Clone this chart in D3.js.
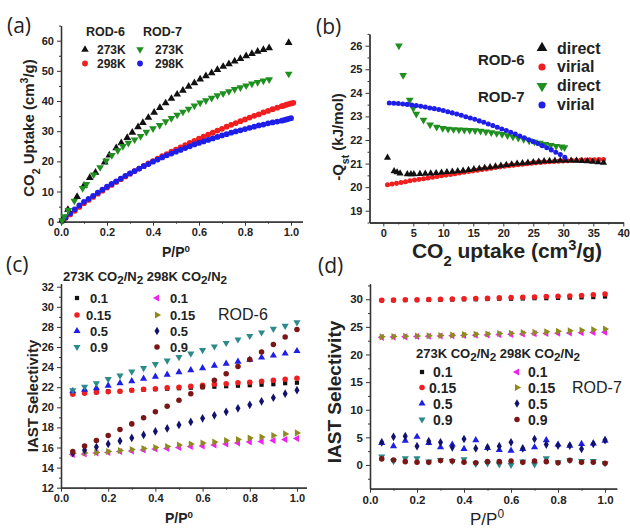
<!DOCTYPE html>
<html>
<head>
<meta charset="utf-8">
<script src="https://cdn.jsdelivr.net/npm/d3@7"></script>
<style>
  body { margin: 0; background: #fff; }
  svg { display: block; font-family: "Liberation Sans", Arial, sans-serif; }
</style>
</head>
<body>
<div id="chart"></div>
<script>
// ---- (a) CO2 isotherms, [P/P0, uptake] ----
const rod6_273K = [[0.005,0.5],[0.03,4.0],[0.07,8.3],[0.10,12.0],[0.125,14.6],[0.15,16.3],[0.19,19.7],[0.21,22.0],[0.24,24.4],[0.262,26.1],[0.288,27.8],[0.31,29.6],[0.335,31.4],[0.356,32.8],[0.38,34.5],[0.405,36.2],[0.43,37.8],[0.455,39.3],[0.48,40.8],[0.505,42.2],[0.53,43.5],[0.555,44.8],[0.58,46.0],[0.605,47.2],[0.63,48.3],[0.655,49.3],[0.68,50.4],[0.705,51.4],[0.73,52.3],[0.755,53.2],[0.78,54.0],[0.805,54.9],[0.83,55.7],[0.855,56.4],[0.88,57.0],[0.905,57.6],[0.99,59.3]];
const rod7_273K = [[0.005,0.4],[0.014,1.7],[0.032,3.8],[0.058,6.9],[0.094,11.1],[0.11,12.4],[0.142,15.6],[0.17,18.0],[0.196,20.2],[0.221,22.0],[0.247,23.6],[0.269,25.0],[0.293,26.1],[0.32,27.2],[0.346,28.3],[0.371,29.7],[0.40,30.9],[0.429,32.0],[0.455,33.2],[0.48,34.3],[0.505,35.4],[0.53,36.4],[0.555,37.4],[0.58,38.4],[0.605,39.4],[0.63,40.2],[0.655,41.0],[0.68,41.8],[0.705,42.5],[0.73,43.2],[0.755,43.9],[0.78,44.5],[0.805,45.1],[0.83,45.7],[0.855,46.2],[0.88,46.7],[0.905,47.1],[0.99,49.0]];
const rod6_298K = [[0.005,0.2],[0.02,1.2],[0.04,2.4],[0.06,3.6],[0.08,4.9],[0.10,6.1],[0.12,7.2],[0.14,8.2],[0.16,9.3],[0.18,10.3],[0.20,11.3],[0.22,12.2],[0.24,13.2],[0.26,14.1],[0.28,15.0],[0.30,15.9],[0.32,16.8],[0.34,17.6],[0.36,18.5],[0.38,19.3],[0.40,20.1],[0.42,20.9],[0.44,21.7],[0.46,22.4],[0.48,23.2],[0.50,23.9],[0.52,24.6],[0.54,25.4],[0.56,26.1],[0.58,26.8],[0.60,27.5],[0.62,28.2],[0.64,28.9],[0.66,29.5],[0.68,30.2],[0.70,30.8],[0.72,31.5],[0.74,32.1],[0.76,32.7],[0.78,33.3],[0.80,33.9],[0.82,34.5],[0.84,35.1],[0.86,35.6],[0.88,36.2],[0.90,36.7],[0.92,37.3],[0.94,37.8],[0.96,38.3],[0.97,38.5],[0.98,38.8],[0.99,39.0],[1.0,39.2],[1.01,39.4]];
const rod7_298K = [[0.005,0.3],[0.02,1.4],[0.04,2.8],[0.06,4.1],[0.08,5.4],[0.10,6.6],[0.12,7.6],[0.14,8.6],[0.16,9.6],[0.18,10.6],[0.20,11.6],[0.22,12.5],[0.24,13.4],[0.26,14.3],[0.28,15.2],[0.30,16.0],[0.32,16.8],[0.34,17.6],[0.36,18.4],[0.38,19.1],[0.40,19.9],[0.42,20.6],[0.44,21.3],[0.46,22.0],[0.48,22.6],[0.50,23.2],[0.52,23.8],[0.54,24.4],[0.56,25.0],[0.58,25.6],[0.60,26.1],[0.62,26.6],[0.64,27.1],[0.66,27.6],[0.68,28.1],[0.70,28.6],[0.72,29.0],[0.74,29.5],[0.76,29.9],[0.78,30.3],[0.80,30.7],[0.82,31.1],[0.84,31.5],[0.86,31.9],[0.88,32.2],[0.90,32.6],[0.92,32.9],[0.94,33.2],[0.96,33.5],[0.97,33.7],[0.98,33.9],[0.99,34.1],[1.0,34.3]];

// ---- (b) isosteric heat, [uptake, -Qst] ----
const rod6_direct = [[0.7,21.25],[1.8,20.68],[2.3,20.63],[2.8,20.58],[4.0,20.55],[4.6,20.55],[5.1,20.55],[6.1,20.56],[7.0,20.57],[7.9,20.58],[8.8,20.6],[9.7,20.62],[10.6,20.64],[11.5,20.66],[12.4,20.68],[13.3,20.7],[14.2,20.73],[15.1,20.76],[16.0,20.79],[16.9,20.82],[17.8,20.85],[18.7,20.88],[19.6,20.91],[20.5,20.94],[21.4,20.97],[22.3,21.0],[23.2,21.02],[24.1,21.04],[25.0,21.06],[25.9,21.08],[26.8,21.1],[27.7,21.11],[28.6,21.12],[29.5,21.13],[30.4,21.13],[31.3,21.13],[32.2,21.12],[33.1,21.11],[34.0,21.1],[34.9,21.08],[35.8,21.06],[36.7,21.04]];
const rod6_virial = [[0.7,20.10],[1.45,20.13],[2.2,20.16],[2.95,20.20],[3.7,20.23],[4.45,20.27],[5.2,20.30],[5.95,20.33],[6.7,20.36],[7.45,20.39],[8.2,20.42],[8.95,20.45],[9.7,20.48],[10.45,20.51],[11.2,20.54],[11.95,20.57],[12.7,20.60],[13.45,20.63],[14.2,20.66],[14.95,20.69],[15.7,20.72],[16.45,20.75],[17.2,20.77],[17.95,20.80],[18.7,20.83],[19.45,20.86],[20.2,20.89],[20.95,20.91],[21.7,20.93],[22.45,20.95],[23.2,20.97],[23.95,20.99],[24.7,21.01],[25.45,21.03],[26.2,21.05],[26.95,21.07],[27.7,21.08],[28.45,21.09],[29.2,21.10],[29.95,21.11],[30.7,21.12],[31.45,21.13],[32.2,21.14],[32.95,21.15],[33.7,21.15],[34.45,21.16],[35.2,21.16],[35.95,21.17],[36.7,21.17]];
const rod7_direct = [[2.6,26.0],[3.3,24.75],[4.4,23.7],[5.0,23.35],[5.5,23.1],[6.7,22.85],[7.8,22.65],[8.9,22.55],[9.9,22.5],[10.8,22.47],[11.7,22.45],[12.6,22.43],[13.5,22.42],[14.4,22.41],[15.3,22.4],[16.2,22.38],[17.1,22.35],[18.0,22.32],[18.9,22.28],[19.8,22.24],[20.7,22.19],[21.6,22.14],[22.5,22.08],[23.4,22.03],[24.3,21.97],[25.2,21.92],[26.1,21.87],[27.0,21.82],[27.9,21.78],[28.8,21.74],[29.7,21.71],[30.2,21.68]];
const rod7_virial = [[1.0,23.57],[1.75,23.56],[2.5,23.55],[3.25,23.53],[4.0,23.51],[4.75,23.48],[5.5,23.46],[6.25,23.43],[7.0,23.40],[7.75,23.36],[8.5,23.33],[9.25,23.29],[10.0,23.25],[10.75,23.20],[11.5,23.15],[12.25,23.10],[13.0,23.05],[13.75,22.99],[14.5,22.93],[15.25,22.88],[16.0,22.81],[16.75,22.75],[17.5,22.68],[18.25,22.61],[19.0,22.54],[19.75,22.47],[20.5,22.40],[21.25,22.33],[22.0,22.25],[22.75,22.17],[23.5,22.09],[24.25,22.01],[25.0,21.93],[25.75,21.85],[26.5,21.76],[27.25,21.67],[28.0,21.58],[28.75,21.48],[29.5,21.38],[30.25,21.27]];

// ---- (c)/(d) IAST selectivity vs P/P0 ----
const pressure = [0.05,0.1,0.15,0.2,0.25,0.3,0.35,0.4,0.45,0.5,0.55,0.6,0.65,0.7,0.75,0.8,0.85,0.9,0.95,1.0];
const c273_01  = [21.4,21.5,21.5,21.6,21.6,21.7,21.75,21.8,21.85,21.9,21.95,22.0,22.05,22.1,22.15,22.2,22.25,22.3,22.4,22.45];
const c273_015 = [21.3,21.4,21.5,21.55,21.6,21.7,21.8,21.85,21.95,22.0,22.1,22.2,22.3,22.35,22.45,22.5,22.6,22.7,22.8,22.9];
const c273_05  = [21.6,21.75,21.9,22.15,22.4,22.6,22.85,23.05,23.25,23.5,23.7,23.9,24.15,24.35,24.55,24.75,24.95,25.15,25.35,25.6];
const c273_09  = [21.7,22.05,22.4,22.8,23.15,23.55,23.9,24.3,24.65,25.0,25.35,25.7,26.05,26.4,26.75,27.1,27.45,27.8,28.1,28.45];
const c298_01  = [15.3,15.35,15.45,15.5,15.6,15.65,15.75,15.85,15.9,16.0,16.1,16.15,16.25,16.35,16.45,16.55,16.6,16.7,16.8,16.9];
const c298_015 = [15.4,15.45,15.5,15.6,15.7,15.8,15.9,16.0,16.1,16.25,16.35,16.45,16.55,16.7,16.8,16.95,17.05,17.2,17.35,17.45];
const c298_05  = [15.45,15.75,16.05,16.35,16.65,16.95,17.25,17.6,17.9,18.25,18.55,18.9,19.2,19.55,19.9,20.25,20.6,20.95,21.35,21.7];
const c298_09  = [15.6,16.15,16.7,17.2,17.8,18.35,18.95,19.55,20.1,20.7,21.35,22.05,22.7,23.35,24.05,24.75,25.5,26.25,27.0,27.75];

const d273_01  = [29.8,29.8,29.85,29.85,29.9,29.9,29.95,30.0,30.0,30.05,30.1,30.1,30.15,30.2,30.2,30.25,30.3,30.35,30.4,30.5];
const d273_015 = [29.8,29.85,29.9,29.9,29.95,30.0,30.05,30.1,30.15,30.2,30.25,30.3,30.35,30.4,30.5,30.55,30.6,30.7,30.8,30.95];
const d273_05  = [4.0,3.4,4.4,5.1,4.0,3.2,3.7,2.9,4.5,3.1,2.7,2.6,2.9,3.2,4.5,3.7,3.5,3.8,3.9,4.4];
const d273_09  = [1.5,0.7,1.2,1.2,0.6,0.9,0.7,1.0,0.2,0.3,0.1,0.0,0.6,0.1,1.2,0.5,0.85,0.7,0.7,0.3];
const d298_01  = [23.1,23.15,23.2,23.25,23.3,23.35,23.4,23.45,23.5,23.55,23.6,23.65,23.7,23.75,23.8,23.85,23.9,23.95,24.0,24.05];
const d298_015 = [23.2,23.25,23.3,23.35,23.4,23.45,23.5,23.6,23.65,23.7,23.8,23.85,23.95,24.0,24.1,24.2,24.3,24.4,24.5,24.6];
const d298_05  = [4.1,5.1,5.2,3.4,4.3,4.1,3.2,4.7,3.0,3.2,3.4,4.1,3.0,4.7,3.7,3.5,3.5,2.9,3.8,4.5];
const d298_09  = [1.1,0.9,0.6,0.5,0.5,0.8,0.7,0.5,0.4,0.6,0.6,0.7,0.5,0.7,0.6,0.4,0.85,0.5,0.5,0.3];

const col = {
  black: "#111", red: "#f01e1e", green: "#1f8f1f", blue: "#1e1ee8",
  teal: "#2b8a8a", magenta: "#ee22ee", olive: "#8f8a1e", navy: "#12126e", wine: "#7a1616"
};

const svg = d3.select("#chart").append("svg")
  .attr("width", 630)
  .attr("height", 528);

// builds the axes of one panel and hands back its scales
function panel(cfg) {
  const x = d3.scaleLinear().domain(cfg.xDomain).range(cfg.xRange);
  const y = d3.scaleLinear().domain(cfg.yDomain).range(cfg.yRange);
  const g = svg.append("g");
  const x0 = cfg.xRange[0], y0 = cfg.yRange[0];

  g.append("g").attr("transform", `translate(0,${y0})`)
    .call(d3.axisBottom(x).tickValues(cfg.xMinor).tickSize(2).tickSizeOuter(0).tickFormat(""));
  g.append("g").attr("transform", `translate(${x0},0)`)
    .call(d3.axisLeft(y).tickValues(cfg.yMinor).tickSize(2).tickSizeOuter(0).tickFormat(""));
  g.append("g").attr("transform", `translate(0,${y0})`)
    .call(d3.axisBottom(x).tickValues(cfg.xTicks).tickSize(4).tickSizeOuter(0).tickPadding(3).tickFormat(cfg.xFmt));
  g.append("g").attr("transform", `translate(${x0},0)`)
    .call(d3.axisLeft(y).tickValues(cfg.yTicks).tickSize(4).tickSizeOuter(0).tickPadding(3).tickFormat(cfg.yFmt));

  g.selectAll(".domain").attr("stroke", "#333").attr("stroke-width", 1.3);
  g.selectAll(".tick line").attr("stroke", "#333");
  g.selectAll(".tick text")
    .style("font-size", cfg.tickSize || "11px")
    .style("font-weight", "bold")
    .attr("fill", "#222");
  return { g, x, y };
}

function points(p, data, type, color, size, rot) {
  p.g.append("g").selectAll("path")
    .data(data)
    .join("path")
    .attr("d", d3.symbol().type(type).size(size))
    .attr("transform", d => `translate(${p.x(d[0])},${p.y(d[1])}) rotate(${rot || 0})`)
    .attr("fill", color);
}

function marker(x, y, type, color, size, rot) {
  svg.append("path")
    .attr("d", d3.symbol().type(type).size(size)())
    .attr("transform", `translate(${x},${y}) rotate(${rot || 0})`)
    .attr("fill", color);
}

// text with optional sub/superscript parts: [[str, "sub"|"sup"|null], ...]
function rich(x, y, parts, opts) {
  const t = svg.append("text")
    .attr("x", x).attr("y", y)
    .attr("text-anchor", opts.anchor || "start")
    .style("font-size", opts.size)
    .style("font-weight", opts.weight || "bold")
    .attr("fill", opts.fill || "#222");
  if (opts.rotate) t.attr("transform", `rotate(-90,${x},${y})`);
  parts.forEach(([s, kind]) => {
    const ts = t.append("tspan").text(s);
    if (kind === "sub") ts.attr("baseline-shift", "sub").style("font-size", "70%");
    if (kind === "sup") ts.attr("baseline-shift", "super").style("font-size", "70%");
    if (kind === "subBig") ts.attr("baseline-shift", "-25%").style("font-size", "90%");
  });
  return t;
}

const fmt1 = d3.format(".1f");
const zip = ys => ys.map((v, i) => [pressure[i], v]);
const tri = d3.symbolTriangle, circ = d3.symbolCircle, sq = d3.symbolSquare, dia = d3.symbolDiamond;

// ================= (a) =================
const pa = panel({
  xDomain: [0, 1.05], xRange: [61, 302.5],
  yDomain: [0, 65], yRange: [221.7, 25.6],
  xTicks: [0, 0.2, 0.4, 0.6, 0.8, 1.0], xMinor: [0.1, 0.3, 0.5, 0.7, 0.9],
  yTicks: [0, 10, 20, 30, 40, 50, 60], yMinor: [5, 15, 25, 35, 45, 55, 65],
  xFmt: fmt1, yFmt: d3.format("d")
});
points(pa, rod6_298K, circ, col.red, 26);
points(pa, rod7_298K, circ, col.blue, 26);
points(pa, rod6_273K, tri, col.black, 26);
points(pa, rod7_273K, tri, col.green, 26, 180);

rich(86, 36, [["ROD-6"]], { size: "12.5px" });
rich(143, 36, [["ROD-7"]], { size: "12.5px" });
marker(85, 49.5, tri, col.black, 24);
marker(140, 49.5, tri, col.green, 24, 180);
marker(85, 63.5, circ, col.red, 26);
marker(140, 63.5, circ, col.blue, 26);
rich(97, 53.5, [["273K"]], { size: "12px" });
rich(155, 53.5, [["273K"]], { size: "12px" });
rich(97, 68, [["298K"]], { size: "12px" });
rich(155, 68, [["298K"]], { size: "12px" });

rich(176, 257, [["P/P"], ["0", "sup"]], { size: "14px", anchor: "middle" });
rich(34, 128, [["CO"], ["2", "sub"], [" Uptake (cm"], ["3", "sup"], ["/g)"]], { size: "15px", anchor: "middle", rotate: true });

// ================= (b) =================
const pb = panel({
  xDomain: [-2.3, 40], xRange: [369.5, 623.3],
  yDomain: [18.5, 26.5], yRange: [222.5, 33.9],
  xTicks: [0, 5, 10, 15, 20, 25, 30, 35, 40], xMinor: [2.5, 7.5, 12.5, 17.5, 22.5, 27.5, 32.5, 37.5],
  yTicks: [19, 20, 21, 22, 23, 24, 25, 26], yMinor: [18.5, 19.5, 20.5, 21.5, 22.5, 23.5, 24.5, 25.5, 26.5],
  xFmt: d3.format("d"), yFmt: d3.format("d")
});
points(pb, rod6_virial, circ, col.red, 20);
points(pb, rod6_direct, tri, col.black, 22);
points(pb, rod7_direct, tri, col.green, 26, 180);
points(pb, rod7_virial, circ, col.blue, 20);

rich(478, 65, [["ROD-6"]], { size: "15px" });
rich(478, 102, [["ROD-7"]], { size: "15px" });
marker(542, 48, tri, col.black, 50);
marker(542, 67, circ, col.red, 40);
marker(542, 86, tri, col.green, 50, 180);
marker(542, 105, circ, col.blue, 40);
rich(557, 54, [["direct"]], { size: "16px" });
rich(557, 72, [["virial"]], { size: "16px" });
rich(557, 91, [["direct"]], { size: "16px" });
rich(557, 110, [["virial"]], { size: "16px" });

rich(507, 258, [["CO"], ["2", "sub"], [" uptake (cm"], ["3", "sup"], ["/g)"]], { size: "21px", anchor: "middle" });
rich(343, 137, [["-Q"], ["st", "sub"], [" (kJ/mol)"]], { size: "15px", anchor: "middle", rotate: true });

// ================= (c) =================
const pc = panel({
  xDomain: [0, 1.04], xRange: [61, 306.4],
  yDomain: [12, 32.3], yRange: [487.7, 283.7],
  xTicks: [0, 0.2, 0.4, 0.6, 0.8, 1.0], xMinor: [0.1, 0.3, 0.5, 0.7, 0.9],
  yTicks: d3.range(12, 33, 2), yMinor: d3.range(13, 33, 2),
  xFmt: fmt1, yFmt: d3.format("d")
});
points(pc, zip(c273_01), sq, col.black, 18);
points(pc, zip(c273_015), circ, col.red, 24);
points(pc, zip(c273_05), tri, col.blue, 22);
points(pc, zip(c273_09), tri, col.teal, 22, 180);
points(pc, zip(c298_01), tri, col.magenta, 22, -90);
points(pc, zip(c298_015), tri, col.olive, 22, 90);
points(pc, zip(c298_05), dia, col.navy, 22);
points(pc, zip(c298_09), circ, col.wine, 24);

function selLegend(cfg) {
  rich(cfg.hx, cfg.hy, [["273K CO"], ["2", "subBig"], ["/N"], ["2", "subBig"], [" 298K CO"], ["2", "subBig"], ["/N"], ["2", "subBig"]], { size: "13px" });
  const labels = ["0.1", "0.15", "0.5", "0.9"];
  const left = [[sq, col.black, 18, 0], [circ, col.red, 24, 0], [tri, col.blue, 22, 0], [tri, col.teal, 22, 180]];
  const right = [[tri, col.magenta, 22, -90], [tri, col.olive, 22, 90], [dia, col.navy, 22, 0], [circ, col.wine, 24, 0]];
  labels.forEach((lab, i) => {
    const yy = cfg.rows[i];
    marker(cfg.m1, yy, ...left[i]);
    marker(cfg.m2, yy, ...right[i]);
    rich(lab === "0.15" ? cfg.l1 - 4 : cfg.l1, yy + 5, [[lab]], { size: cfg.size });
    rich(cfg.l2, yy + 5, [[lab]], { size: cfg.size });
  });
  rich(cfg.rx, cfg.ry, [[cfg.name]], { size: "16px", weight: "normal" });
}
selLegend({ hx: 63, hy: 281, rows: [298, 315, 331, 347], m1: 77, m2: 157, l1: 90, l2: 170, size: "13px", rx: 218, ry: 320, name: "ROD-6" });

rich(179, 523, [["P/P"], ["0", "sup"]], { size: "14px", anchor: "middle" });
rich(38, 396, [["IAST Selectivity"]], { size: "15px", anchor: "middle", rotate: true });

// ================= (d) =================
const pd = panel({
  xDomain: [0, 1.05], xRange: [370, 616.8],
  yDomain: [-4.3, 32.8], yRange: [488.7, 283.8],
  xTicks: [0, 0.2, 0.4, 0.6, 0.8, 1.0], xMinor: [0.1, 0.3, 0.5, 0.7, 0.9],
  yTicks: [0, 5, 10, 15, 20, 25, 30], yMinor: [-2.5, 2.5, 7.5, 12.5, 17.5, 22.5, 27.5, 32.5],
  xFmt: fmt1, yFmt: d3.format("d"), tickSize: "11.5px"
});
points(pd, zip(d273_01), sq, col.black, 18);
points(pd, zip(d273_015), circ, col.red, 24);
points(pd, zip(d273_05), tri, col.blue, 22);
points(pd, zip(d273_09), tri, col.teal, 22, 180);
points(pd, zip(d298_01), tri, col.magenta, 22, -90);
points(pd, zip(d298_015), tri, col.olive, 22, 90);
points(pd, zip(d298_05), dia, col.navy, 22);
points(pd, zip(d298_09), circ, col.wine, 24);

selLegend({ hx: 416, hy: 358, rows: [372, 387.5, 403.5, 419.5], m1: 422, m2: 517, l1: 433, l2: 528, size: "14px", rx: 572, ry: 393, name: "ROD-7" });

rich(487, 525, [["P/P"], ["0", "sup"]], { size: "17px", anchor: "middle", weight: "normal" });
rich(341, 392, [["IAST Selectivity"]], { size: "19px", anchor: "middle", rotate: true });

// panel letters
[["(a)", 7, 33], ["(b)", 316, 34], ["(c)", 6, 272], ["(d)", 318, 273]].forEach(([s, x, y]) => {
  svg.append("text").attr("x", x).attr("y", y)
    .style("font-family", "'Open Sans', sans-serif")
    .style("font-size", "21px")
    .attr("fill", "#222")
    .text(s);
});
</script>
</body>
</html>
